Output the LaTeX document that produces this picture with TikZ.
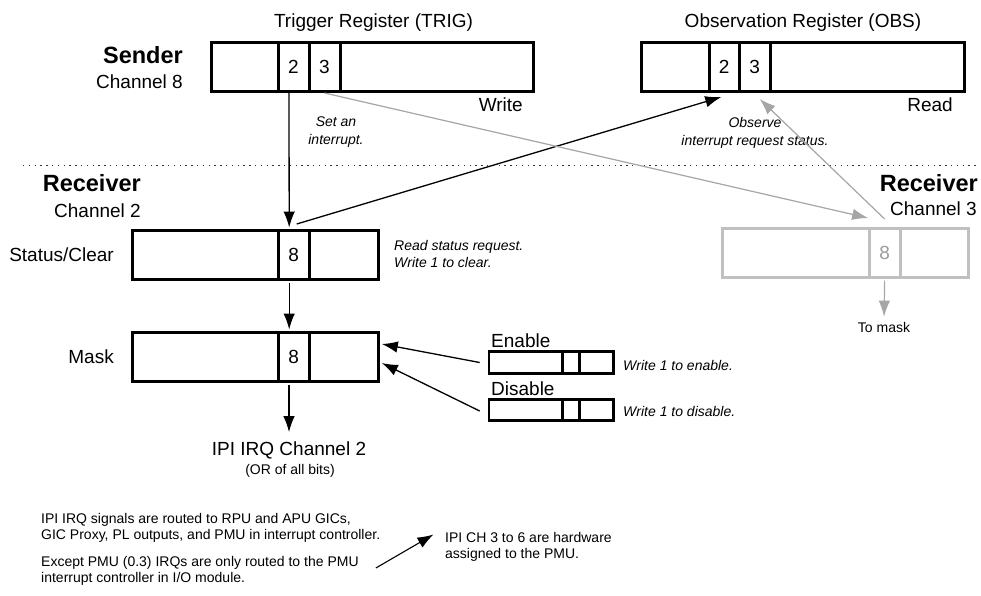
\documentclass[tikz,border=0pt]{standalone}
\usepackage{fontspec}
\setmainfont{Liberation Sans}
\usepackage{tikz}
\usetikzlibrary{arrows.meta,positioning}
\definecolor{linegrey}{HTML}{A6A6A6}
\definecolor{boxgrey}{HTML}{C0C0C0}
\definecolor{textgrey}{HTML}{9A9A9A}
\tikzset{>={Latex[length=16pt,width=11.5pt]}}
\tikzset{
  reg/.style={draw, line width=3pt, inner sep=0pt, minimum height=49pt,
    font=\fontsize{19}{22}\selectfont},
  greyreg/.style={reg, draw=boxgrey, text=textgrey},
  smallreg/.style={draw, line width=2.6pt, inner sep=0pt, minimum height=21.5pt},
  lab/.style={inner sep=0pt, font=\fontsize{19}{22}\selectfont},
  head/.style={inner sep=0pt, font=\fontsize{23.5}{26}\selectfont\bfseries},
  note/.style={inner sep=0pt, align=left, font=\fontsize{14}{17.5}\selectfont\itshape},
  small/.style={inner sep=0pt, align=left, font=\fontsize{14}{15.5}\selectfont},
  conn/.style={->, line width=1.3pt},
  greyconn/.style={->, line width=1.2pt, draw=linegrey, fill=linegrey},
}

\begin{document}
\begin{tikzpicture}[x=1pt,y=-1pt]
\useasboundingbox (0,0) rectangle (981,595);

% sender side
\node[head, anchor=east] (sender) at (183,55) {Sender};
\node[lab, anchor=east] (senderch) at (183,82) {Channel 8};
\node[lab] (trigtitle) at (373.5,23) {Trigger Register (TRIG)};
\foreach \nm/\cx/\w/\txt in {L/244.5/67/,2/293.5/31/2,3/324.5/31/3,R/436.5/193/}
  \node[reg, minimum width=\w] (trig\nm) at (\cx,67) {\txt};
\node[lab, anchor=east] (write) at (523,105) {Write};
\node[note, align=center] (setint) at (336,132) {Set an\\interrupt.};

\node[lab] (obstitle) at (803,23) {Observation Register (OBS)};
\foreach \nm/\cx/\w/\txt in {L/675/68/,2/724.25/30.5/2,3/754.75/30.5/3,R/867/194/}
  \node[reg, minimum width=\w] (obs\nm) at (\cx,67) {\txt};
\node[lab, anchor=east] (read) at (953,105) {Read};
\node[note, align=center] (observe) at (755,133) {Observe\\interrupt request status.};

\draw[black!80, line width=1.4pt, dash pattern=on 1.4pt off 4.4pt] (23,165.5) -- (978,165.5);

% receiver channel 2
\node[head, anchor=east] (recv2) at (141,183) {Receiver};
\node[lab, anchor=east] (recv2ch) at (141,211) {Channel 2};

\node[lab, anchor=east] (statlbl) at (114,255) {Status/Clear};
\foreach \nm/\cx/\w/\txt in {L/205.4/145.6/,8/293.7/31/8,R/344/69.6/}
  \node[reg, minimum width=\w] (stat\nm) at (\cx,255) {\txt};
\node[note, anchor=west] (statnote) at (394,254) {Read status request.\\Write 1 to clear.};

\node[lab, anchor=east] (masklbl) at (114,357) {Mask};
\foreach \nm/\cx/\w/\txt in {L/205.4/145.6/,8/293.7/31/8,R/344/69.6/}
  \node[reg, minimum width=\w] (mask\nm) at (\cx,357) {\txt};

\node[lab] (irq) at (289,450) {IPI IRQ Channel 2};
\node[small] (irqsub) at (290,471) {(OR of all bits)};

% enable / disable
\node[lab, anchor=west] (enlbl) at (491,341) {Enable};
\foreach \nm/\cx/\w in {L/525.85/73.7,M/571/16.6,R/596.3/34}
  \node[smallreg, minimum width=\w] (en\nm) at (\cx,362.5) {};
\node[note, anchor=west] (ennote) at (623,365) {Write 1 to enable.};
\node[lab, anchor=west] (dislbl) at (491,389) {Disable};
\foreach \nm/\cx/\w in {L/525.85/73.7,M/571/16.6,R/596.3/34}
  \node[smallreg, minimum width=\w] (dis\nm) at (\cx,410) {};
\node[note, anchor=west] (disnote) at (623,411) {Write 1 to disable.};

% receiver channel 3
\node[head, anchor=east] (recv3) at (978,183) {Receiver};
\node[lab, anchor=east] (recv3ch) at (977,209) {Channel 3};
\foreach \nm/\cx/\w/\txt in {L/795.8/147/,8/884.65/30.7/8,R/934.15/68.3/}
  \node[greyreg, minimum width=\w] (chc\nm) at (\cx,253) {\txt};
\node[small] (tomask) at (884,327) {To mask};

% notes
\node[small, anchor=west] (note1) at (41,528) {IPI IRQ signals are routed to RPU and APU GICs,\\GIC Proxy, PL outputs, and PMU in interrupt controller.};
\node[small, anchor=west] (note2) at (41,571) {Except PMU (0.3) IRQs are only routed to the PMU\\interrupt controller in I/O module.};
\node[small, anchor=west] (hwnote) at (445,547) {IPI CH 3 to 6 are hardware\\assigned to the PMU.};

% connectors
\draw[conn, shorten >=1.5pt] ([xshift=-4.5pt]trig2.south) -- ([xshift=-4.5pt]stat8.north);
\draw[conn] ([xshift=3pt,yshift=5pt]stat8.north) -- ([xshift=-3pt,yshift=-4pt]obs2.south);
\draw[greyconn] (trig3.south) -- ([xshift=-16.5pt,yshift=9pt]chc8.north);
\draw[greyconn] ([yshift=8pt]chc8.north) -- ([xshift=5pt,yshift=-6pt]obs3.south);
\draw[greyconn, shorten <=1.5pt, shorten >=5pt] (chc8.south) -- (tomask.north);
\draw[conn, shorten <=1.5pt, shorten >=1.5pt] ([xshift=-4.5pt]stat8.south) -- ([xshift=-4.5pt]mask8.north);
\draw[conn, shorten <=1.5pt, shorten >=9pt] (irq.north |- mask8.south) -- (irq.north);
\draw[conn] ([xshift=-8pt]enL.west) -- ([xshift=1.5pt,yshift=13pt]maskR.east);
\draw[conn] ([xshift=-8pt,yshift=-1pt]disL.west) -- ([xshift=1.5pt,yshift=-6pt]maskR.east);
\draw[conn, line width=1.1pt] ([xshift=17pt,yshift=3pt]note2.east) -- ([xshift=-11.5pt,yshift=12.5pt]hwnote.west);
\end{tikzpicture}
\end{document}
